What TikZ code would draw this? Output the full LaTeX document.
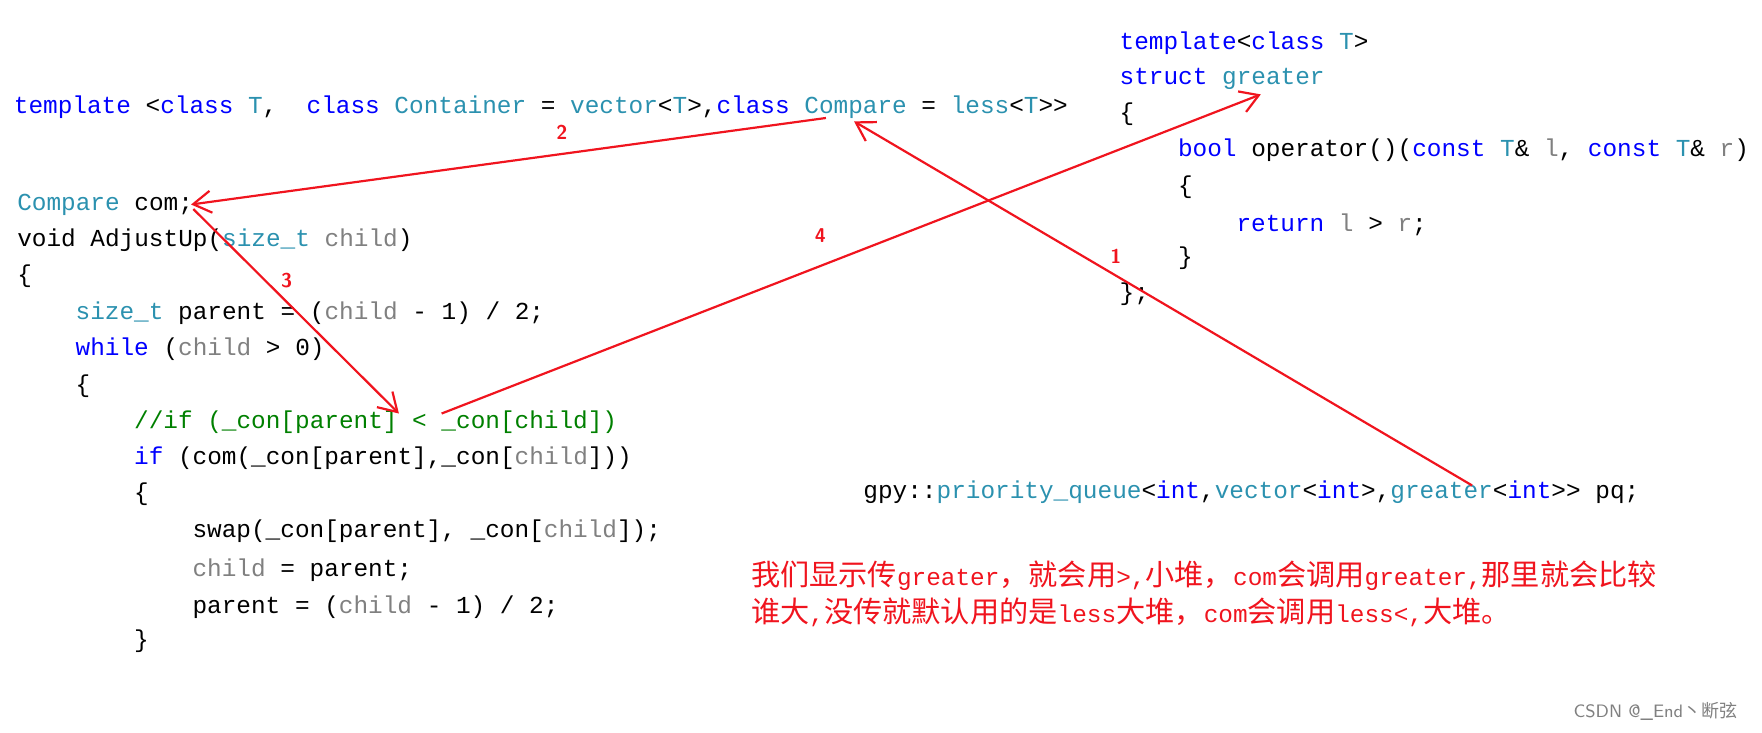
\documentclass[tikz,border=0pt]{standalone}
\usepackage{fontspec}
\setmonofont{Liberation Mono}
\newfontfamily\cjk{Noto Sans CJK SC}
\usepackage{tikz}
\usetikzlibrary{arrows.meta}

\definecolor{kwblue}{RGB}{0,0,255}
\definecolor{tyteal}{RGB}{43,145,175}
\definecolor{pgray}{RGB}{128,128,128}
\definecolor{cmgreen}{RGB}{0,128,0}
\definecolor{penred}{RGB}{240,20,30}
\newcommand{\kw}[1]{\textcolor{kwblue}{#1}}
\newcommand{\ty}[1]{\textcolor{tyteal}{#1}}
\newcommand{\gr}[1]{\textcolor{pgray}{#1}}
\newcommand{\cm}[1]{\textcolor{cmgreen}{#1}}
\newcommand{\zh}[1]{{\cjk\fontsize{14.6}{16}\selectfont #1}}

\begin{document}
\begin{tikzpicture}[x=0.562pt,y=-0.562pt,
  code/.style={anchor=west,inner sep=0pt,font=\ttfamily\fontsize{12.2}{15}\selectfont},
  note/.style={anchor=west,inner sep=0pt,text=penred,font=\ttfamily\fontsize{12.2}{15}\selectfont},
  pen/.style={draw=penred,line width=1.1pt,-{Straight Barb[length=9pt,width=11pt]}},
  penmark/.style={text=penred,font=\sffamily\bfseries\fontsize{10}{10}\selectfont}]
\useasboundingbox (0,0) rectangle (1568,652);

% left code
\node[code] (tpl) at (12,95) {\kw{template} <\kw{class} \ty{T},\ \ \kw{class} \ty{Container} = \ty{vector}<\ty{T}>,\kw{class} \ty{Compare} = \ty{less}<\ty{T}>>};
\node[code] (cmp) at (15,182) {\ty{Compare} com;};
\node[code] (fn) at (15,214) {void AdjustUp(\ty{size\_t} \gr{child})};
\node[code] (b1) at (15,246) {\{};
\node[code] (par) at (67,279) {\ty{size\_t} parent = (\gr{child} - 1) / 2;};
\node[code] (wh) at (67,311) {\kw{while} (\gr{child} > 0)};
\node[code] (b2) at (67,344) {\{};
\node[code] (cmt) at (119,376) {\cm{//if (\_con[parent] < \_con[child])}};
\node[code] (ifc) at (119,408) {\kw{if} (com(\_con[parent],\_con[\gr{child}]))};
\node[code] (b3) at (119,440) {\{};
\node[code] (sw) at (171,473) {swap(\_con[parent], \_con[\gr{child}]);};
\node[code] (ch) at (171,507) {\gr{child} = parent;};
\node[code] (pa) at (171,540) {parent = (\gr{child} - 1) / 2;};
\node[code] (b4) at (119,571) {\}};

% right code
\node[code] (gtpl) at (996,38) {\kw{template}<\kw{class} \ty{T}>};
\node[code] (gst) at (996,70) {\kw{struct} \ty{greater}};
\node[code] (gb1) at (996,102) {\{};
\node[code] (gop) at (1048,134) {\kw{bool} operator()(\kw{const} \ty{T}\& \gr{l}, \kw{const} \ty{T}\& \gr{r})};
\node[code] (gb2) at (1048,167) {\{};
\node[code] (gret) at (1100,200) {\kw{return} \gr{l} > \gr{r};};
\node[code] (gb3) at (1048,230) {\}};
\node[code] (gb4) at (996,262) {\};};

\node[code] (pq) at (768,438) {gpy::\ty{priority\_queue}<\kw{int},\ty{vector}<\kw{int}>,\ty{greater}<\kw{int}>> pq;};

% red notes
\node[note] (n1) at (668,512) {\zh{我们显示传}greater\zh{，就会用}>,\zh{小堆，}com\zh{会调用}greater,\zh{那里就会比较}};
\node[note] (n2) at (668,545) {\zh{谁大},\zh{没传就默认用的是}less\zh{大堆，}com\zh{会调用}less<,\zh{大堆。}};

\node[anchor=west,inner sep=0pt,text=pgray,font=\sffamily\fontsize{9}{10}\selectfont] (wm) at (1400,633) {CSDN @\_End{\cjk 丶断弦}};

% pen strokes
\coordinate (a1s) at (1310,432);
\coordinate (a1e) at (760,108);
\coordinate (a2s) at (735,105);
\coordinate (a2e) at (170,182);
\coordinate (a3s) at (172,186);
\coordinate (a3e) at (355,368);
\coordinate (a4s) at (393,368);
\coordinate (a4e) at (1122,84);
\draw[pen] (a1s) -- (a1e);
\draw[pen] (a2s) -- (a2e);
\draw[pen] (a3s) -- (a3e);
\draw[pen] (a4s) -- (a4e);
\node[penmark] (m1) at (993,228) {1};
\node[penmark] (m2) at (500,118) {2};
\node[penmark] (m3) at (255,250) {3};
\node[penmark] (m4) at (730,210) {4};
\end{tikzpicture}
\end{document}
